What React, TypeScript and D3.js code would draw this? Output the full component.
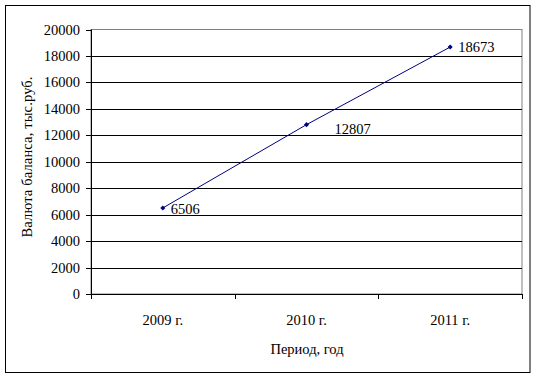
import React from "react";
import * as d3 from "d3";

const categories = ["2009 г.", "2010 г.", "2011 г."];
const values = [6506, 12807, 18673];
const yTicks = [0, 2000, 4000, 6000, 8000, 10000, 12000, 14000, 16000, 18000, 20000];
const yTitle = "Валюта баланса, тыс.руб.";
const xTitle = "Период, год";

const W = 537, H = 379;
const plot = { left: 91, right: 522, top: 29.5, bottom: 294 };
const labelOffsets = [[8, 6], [28, 9], [8, 5]];

export default function App() {
  const x = d3.scaleBand().domain(categories).range([plot.left, plot.right]).padding(0);
  const y = d3.scaleLinear().domain([0, 20000]).range([plot.bottom, plot.top]);
  const cx = (c: string) => (x(c) ?? 0) + x.bandwidth() / 2;
  const line = d3.line<number>().x((_, i) => cx(categories[i])).y((v) => y(v));
  const ts: React.CSSProperties = { fontFamily: '"Liberation Serif", "Times New Roman", "DejaVu Serif", serif', fontSize: 14.5 };
  const boundaries = [plot.left, ...categories.map((c) => (x(c) ?? 0) + x.bandwidth())];
  const marker = d3.symbol(d3.symbolSquare, 13)() ?? "";
  return (
    <svg width={W} height={H} style={{ position: "absolute", left: 0, top: 0 }}>
      <rect x={0} y={0} width={W} height={H} fill="#fff" />
      <rect x={5.5} y={5.5} width={524.5} height={367} fill="#fff" stroke="#000" strokeWidth={1} />
      <rect x={plot.left} y={plot.top} width={plot.right - plot.left} height={plot.bottom - plot.top} fill="none" stroke="#808080" strokeWidth={1} />
      {yTicks.map((t) => (
        <g key={t}>
          {t > 0 && t < 20000 && (
            <line x1={plot.left} x2={plot.right} y1={Math.round(y(t)) + 0.5} y2={Math.round(y(t)) + 0.5} stroke="#000" />
          )}
          <line x1={plot.left - 5} x2={plot.left} y1={Math.round(y(t)) + 0.5} y2={Math.round(y(t)) + 0.5} stroke="#000" />
          <text x={80} y={y(t) + 5} textAnchor="end" style={ts}>{t}</text>
        </g>
      ))}
      <line x1={plot.left + 0.5} x2={plot.left + 0.5} y1={plot.top} y2={plot.bottom + 5} stroke="#000" />
      <line x1={plot.left} x2={plot.right} y1={Math.round(plot.bottom) + 0.5} y2={Math.round(plot.bottom) + 0.5} stroke="#000" />
      {boundaries.map((b, i) => (
        <line key={i} x1={Math.round(b) + 0.5} x2={Math.round(b) + 0.5} y1={plot.bottom} y2={plot.bottom + 5} stroke="#000" />
      ))}
      {categories.map((c) => (
        <text key={c} x={cx(c)} y={325} textAnchor="middle" style={ts}>{c}</text>
      ))}
      <text x={307} y={354} textAnchor="middle" style={ts}>{xTitle}</text>
      <text transform={`translate(32,157) rotate(-90)`} textAnchor="middle" style={ts} textLength={161} lengthAdjust="spacing">{yTitle}</text>
      <path d={line(values) ?? ""} fill="none" stroke="#000080" strokeWidth={1} />
      {values.map((v, i) => (
        <g key={i}>
          <path d={marker} transform={`translate(${cx(categories[i])},${y(v)}) rotate(45)`} fill="#000080" />
          <text x={cx(categories[i]) + labelOffsets[i][0]} y={y(v) + labelOffsets[i][1]} style={ts}>{v}</text>
        </g>
      ))}
    </svg>
  );
}
